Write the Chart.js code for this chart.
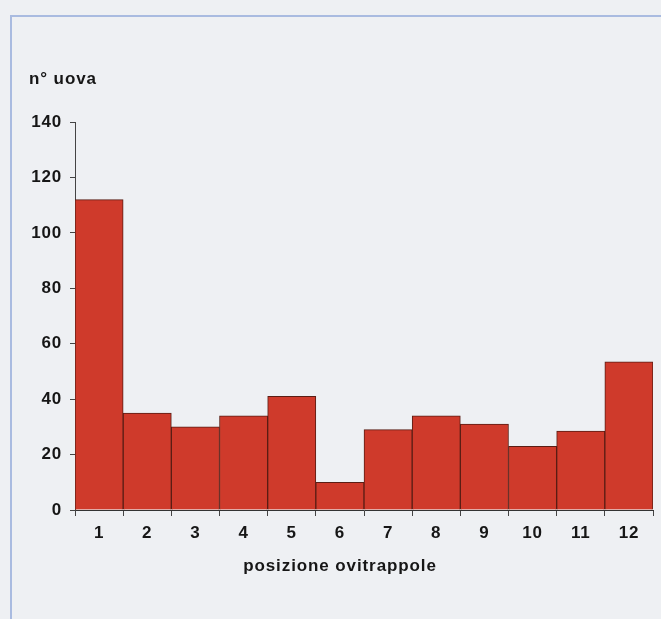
<!DOCTYPE html>
<html>
<head>
<meta charset="utf-8">
<script src="https://cdn.jsdelivr.net/npm/chart.js@4/dist/chart.umd.min.js"></script>
<style>
  html, body { margin: 0; padding: 0; background: #eef0f3; }
  #wrap { position: relative; width: 661px; height: 619px; overflow: hidden; }
  #frame { position: absolute; left: 10px; top: 15px; width: 700px; height: 700px;
           border-top: 2px solid #a9bbe0; border-left: 2px solid #a9bbe0; }
  canvas { position: absolute; left: 0; top: 0; }
</style>
</head>
<body>
<div id="wrap">
  <div id="frame"></div>
  <canvas id="c" width="661" height="619"></canvas>
</div>
<script>
const categories = ["1","2","3","4","5","6","7","8","9","10","11","12"];
const eggCounts = [112, 35, 30, 34, 41, 10, 29, 34, 31, 23, 28.5, 53.5];
const yTicks = [0, 20, 40, 60, 80, 100, 120, 140];
const yTitle = "n° uova";
const xTitle = "posizione ovitrappole";

const FONT = "'Liberation Sans', Arial, Helvetica, sans-serif";

const spacingPlugin = {
  id: 'spacing',
  beforeInit(chart) { chart.ctx.letterSpacing = '0.8px'; },
  beforeLayout(chart) { chart.ctx.letterSpacing = '0.8px'; },
  beforeDraw(chart) { chart.ctx.letterSpacing = '0.8px'; }
};

const titlesPlugin = {
  id: 'axisTitles',
  afterDraw(chart) {
    const ctx = chart.ctx;
    const a = chart.chartArea;
    ctx.save();
    ctx.fillStyle = '#161616';
    ctx.letterSpacing = '0.9px';
    ctx.font = "bold 17px " + FONT;
    ctx.textBaseline = 'middle';
    ctx.textAlign = 'left';
    ctx.fillText(yTitle, a.left - 46, a.top - 43);
    ctx.textAlign = 'center';
    ctx.fillText(xTitle, a.left + 265, a.bottom + 56);
    ctx.restore();
  }
};

new Chart(document.getElementById('c'), {
  type: 'bar',
  data: {
    labels: categories,
    datasets: [{
      data: eggCounts,
      backgroundColor: '#cf3a2b',
      borderColor: '#5a1d14',
      borderWidth: 1,
      borderSkipped: 'bottom',
      categoryPercentage: 1,
      barPercentage: 1
    }]
  },
  options: {
    responsive: false,
    animation: false,
    devicePixelRatio: 1,
    layout: { padding: { left: 9, right: 8, top: 122, bottom: 0 } },
    plugins: { legend: { display: false }, tooltip: { enabled: false } },
    scales: {
      x: {
        grid: { display: true, drawOnChartArea: false, drawTicks: true, tickLength: 6, color: '#444', offset: true },
        border: { display: true, color: '#333', width: 1 },
        ticks: { color: '#161616', font: { family: FONT, size: 17, weight: 'bold' }, padding: 7, maxRotation: 0 },
        afterFit(scale) { scale.height = 109; }
      },
      y: {
        min: 0, max: 140,
        afterBuildTicks(scale) { scale.ticks = yTicks.map(v => ({ value: v })); },
        grid: { display: true, drawOnChartArea: false, drawTicks: true, tickLength: 5, color: '#444' },
        border: { display: true, color: '#444', width: 1 },
        ticks: { color: '#161616', font: { family: FONT, size: 17, weight: 'bold' }, padding: 8 },
        afterFit(scale) { scale.width = 66; }
      }
    }
  },
  plugins: [spacingPlugin, titlesPlugin]
});
</script>
</body>
</html>
